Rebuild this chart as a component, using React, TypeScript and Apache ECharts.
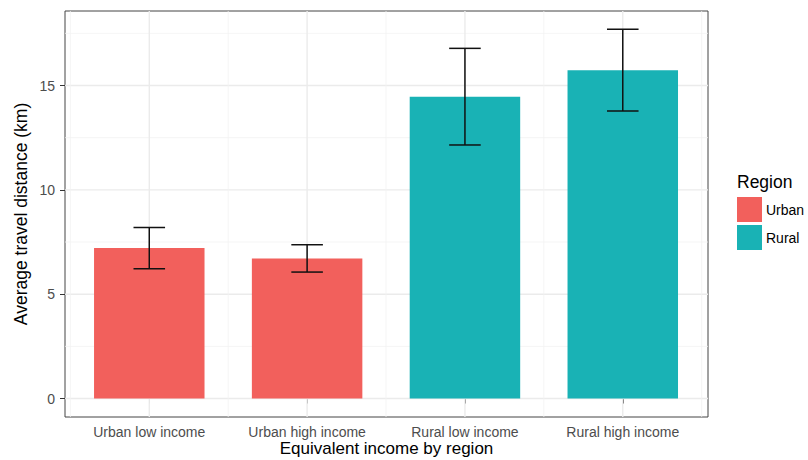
import React, { useEffect, useRef } from "react";
import * as echarts from "echarts";

const categories = ["Urban low income", "Urban high income", "Rural low income", "Rural high income"];
const regionOf = ["Urban", "Urban", "Rural", "Rural"];
const means = [7.21, 6.71, 14.46, 15.73];
const lowerCI = [6.22, 6.06, 12.15, 13.78];
const upperCI = [8.2, 7.37, 16.78, 17.69];
const yMajor = [0, 5, 10, 15];
const yMinor = [2.5, 7.5, 12.5, 17.5];
const xMajor = [1, 2, 3, 4];
const xMinor = [0.5, 1.5, 2.5, 3.5, 4.5];
const regions = ["Urban", "Rural"];
const regionColors = ["#F2605C", "#19B2B5"];

const FONT = "'Liberation Sans', Arial, Helvetica, sans-serif";

export default function App() {
  const ref = useRef<HTMLDivElement>(null);
  useEffect(() => {
    document.body.style.margin = "0";
    const chart = echarts.init(ref.current!, null, { renderer: "svg" });

    const gridData: number[][] = [
      ...yMajor.map((v) => [v, 0]),
      ...yMinor.map((v) => [v, 1]),
      ...xMajor.map((v) => [v, 2]),
      ...xMinor.map((v) => [v, 3]),
    ];

    const barSeries = regions.map((r, ri) => ({
      name: r,
      type: "custom",
      z: 3,
      itemStyle: { color: regionColors[ri] },
      encode: { x: 0, y: 1 },
      data: categories
        .map((_, i) => (regionOf[i] === r ? [i + 1, means[i]] : null))
        .filter((d) => d !== null),
      renderItem: (params: any, api: any) => {
        const x = api.value(0);
        const y = api.value(1);
        const p0 = api.coord([x - 0.35, y]);
        const p1 = api.coord([x + 0.35, 0]);
        return {
          type: "rect",
          shape: { x: p0[0], y: p0[1], width: p1[0] - p0[0], height: p1[1] - p0[1] },
          style: { fill: regionColors[ri] },
        };
      },
    }));

    const option: any = {
      animation: false,
      textStyle: { fontFamily: FONT },
      grid: {
        left: 65,
        top: 11,
        width: 643,
        height: 406,
        outerBoundsMode: "none",
        containLabel: false,
        show: true,
        borderColor: "#444",
        borderWidth: 1,
        backgroundColor: "transparent",
      },
      xAxis: {
        type: "value",
        min: 0.466,
        max: 4.54,
        axisLine: { show: false },
        splitLine: { show: false },
        axisTick: { show: true, length: 5, customValues: xMajor, lineStyle: { color: "#333", width: 1 } },
        axisLabel: {
          customValues: xMajor,
          formatter: (v: number) => categories[Math.round(v) - 1],
          color: "#4d4d4d",
          fontSize: 14,
          margin: 8,
          fontFamily: FONT,
        },
        name: "Equivalent income by region",
        nameLocation: "middle",
        nameMoveOverlap: false,
        nameGap: 23,
        nameTextStyle: { color: "#000", fontSize: 17, fontFamily: FONT, lineHeight: 17 },
      },
      yAxis: {
        type: "value",
        min: -0.885,
        max: 18.57,
        axisLine: { show: false },
        splitLine: { show: false },
        axisTick: { show: true, length: 5, customValues: yMajor, lineStyle: { color: "#333", width: 1 } },
        axisLabel: {
          customValues: yMajor,
          color: "#4d4d4d",
          fontSize: 14,
          margin: 10,
          fontFamily: FONT,
        },
        name: "Average travel distance (km)",
        nameLocation: "middle",
        nameMoveOverlap: false,
        nameGap: 35,
        nameTextStyle: { color: "#000", fontSize: 17.5, fontFamily: FONT },
      },
      legend: {
        data: regions,
        orient: "vertical",
        left: 737,
        top: 197,
        padding: 0,
        icon: "rect",
        itemWidth: 25,
        itemHeight: 25,
        itemGap: 3,
        textStyle: { fontSize: 14, color: "#000", fontFamily: FONT, padding: [0, 0, 0, -1] },
        selectedMode: false,
      },
      graphic: [
        {
          type: "text",
          left: 737,
          top: 173,
          style: { text: "Region", fontSize: 17.5, fill: "#000", fontFamily: FONT },
        },
      ],
      series: [
        {
          name: "grid",
          type: "custom",
          silent: true,
          z: 1,
          encode: { x: 0 },
          data: gridData,
          renderItem: (params: any, api: any) => {
            const v = api.value(0);
            const kind = api.value(1);
            const cs = params.coordSys;
            const major = kind === 0 || kind === 2;
            const stroke = major ? "#ebebeb" : "#f3f3f3";
            const lw = major ? 1.4 : 0.8;
            if (kind <= 1) {
              const p = api.coord([1, v]);
              return {
                type: "line",
                shape: { x1: cs.x, y1: p[1], x2: cs.x + cs.width, y2: p[1] },
                style: { stroke, lineWidth: lw },
              };
            }
            const p = api.coord([v, 0]);
            return {
              type: "line",
              shape: { x1: p[0], y1: cs.y, x2: p[0], y2: cs.y + cs.height },
              style: { stroke, lineWidth: lw },
            };
          },
        },
        ...barSeries,
        {
          name: "errors",
          type: "custom",
          z: 4,
          silent: true,
          encode: { x: 0, y: [1, 2] },
          data: categories.map((_, i) => [i + 1, lowerCI[i], upperCI[i]]),
          renderItem: (params: any, api: any) => {
            const x = api.value(0);
            const lo = api.value(1);
            const hi = api.value(2);
            const top = api.coord([x, hi]);
            const bot = api.coord([x, lo]);
            const capL = api.coord([x - 0.1, hi]);
            const capR = api.coord([x + 0.1, hi]);
            const style = { stroke: "#111", lineWidth: 1.5 };
            return {
              type: "group",
              children: [
                { type: "line", shape: { x1: top[0], y1: top[1], x2: bot[0], y2: bot[1] }, style },
                { type: "line", shape: { x1: capL[0], y1: top[1], x2: capR[0], y2: top[1] }, style },
                { type: "line", shape: { x1: capL[0], y1: bot[1], x2: capR[0], y2: bot[1] }, style },
              ],
            };
          },
        },
      ],
    };
    chart.setOption(option);
    return () => chart.dispose();
  }, []);
  return <div ref={ref} style={{ width: 808, height: 460 }} />;
}
